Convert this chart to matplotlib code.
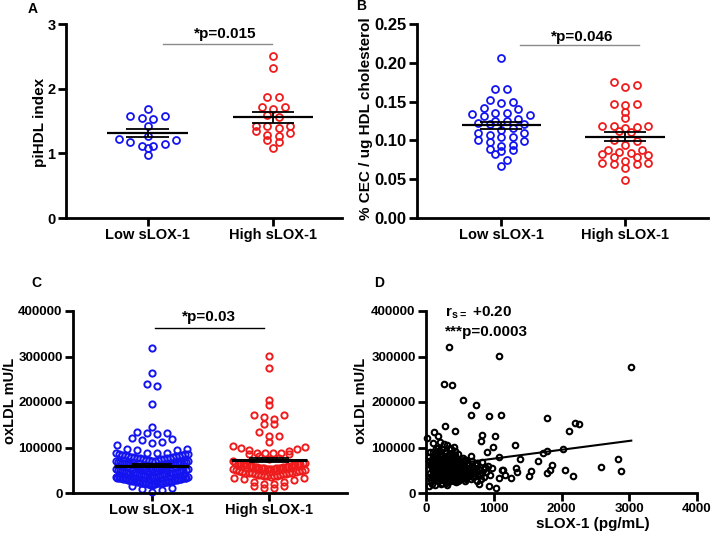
import numpy as np
import matplotlib
matplotlib.use('Agg')
import matplotlib.pyplot as plt

plt.rcParams['font.family'] = ['Liberation Sans', 'DejaVu Sans']
plt.rcParams['font.weight'] = 'bold'
plt.rcParams['mathtext.fontset'] = 'custom'
plt.rcParams['mathtext.rm'] = 'Liberation Sans:bold'
plt.rcParams['mathtext.bf'] = 'Liberation Sans:bold'

# ---- data ----
groups = ['Low sLOX-1', 'High sLOX-1']

# A: piHDL index
pihdl_low = [1.69, 1.58, 1.54, 1.53, 1.58, 1.43, 1.27, 1.22, 1.15, 1.12, 1.18, 1.21, 1.09, 1.12, 0.97]
pihdl_high = [2.51, 2.32, 1.87, 1.87, 1.71, 1.68, 1.71, 1.59, 1.56, 1.43, 1.43, 1.43, 1.39, 1.35,
              1.28, 1.27, 1.31, 1.21, 1.17, 1.09]

# B: % CEC / ug HDL cholesterol
cec_low = [0.206, 0.166, 0.166, 0.150, 0.148, 0.152, 0.142, 0.141, 0.135, 0.134, 0.133, 0.135, 0.132,
           0.125, 0.123, 0.121, 0.121, 0.125, 0.127, 0.116, 0.109, 0.107, 0.104, 0.101, 0.105, 0.109,
           0.114, 0.094, 0.089, 0.098, 0.099, 0.086, 0.088, 0.093, 0.075, 0.082, 0.067]
cec_high = [0.175, 0.169, 0.171, 0.147, 0.145, 0.147, 0.137, 0.119, 0.118, 0.116, 0.117, 0.119, 0.129,
            0.111, 0.112, 0.101, 0.099, 0.094, 0.087, 0.084, 0.081, 0.082, 0.085, 0.088, 0.079, 0.073,
            0.071, 0.069, 0.064, 0.069, 0.071, 0.078, 0.049]

# C: oxLDL (thousand mU/L)
oxldl_low_k = [319, 263, 239, 235, 195, 145, 134, 132, 131, 129, 120, 118, 117, 112, 110, 105, 97, 96,
               94, 94, 89, 89,
               88, 87, 86, 85, 85, 84, 83, 83, 82, 81, 81, 80, 79, 79, 78, 77, 77, 76, 75, 75, 74, 73,
               73, 72, 71, 71,
               70, 70, 69, 69, 68, 68, 67, 67, 66, 66, 65, 65, 64, 64, 63, 63, 62, 62, 61, 61, 60, 60,
               59, 59, 58, 58, 57, 57, 56, 56, 55, 55, 54, 54, 53, 53,
               52, 52, 51, 51, 50, 50, 49, 49, 48, 48, 47, 47, 46, 46, 45, 45, 44, 44, 43, 43, 42, 42,
               41, 41, 40, 40, 40, 39, 39, 38, 38, 37, 37, 36, 36,
               35, 35, 34, 34, 33, 33, 32, 32, 32, 31, 31, 31, 30, 30, 30, 29, 29, 29, 28, 28, 28, 27,
               27, 27, 26, 26, 26, 25, 25, 25, 24, 24, 24, 23, 23, 23, 22, 22, 22, 21, 21, 21, 20, 20,
               19, 19, 18, 18,
               15, 12, 9, 6, 3]
oxldl_high_k = [301, 275, 204, 193, 171, 171, 168, 162, 151, 151, 135, 125, 125, 113,
                103, 102, 100, 96, 95, 92, 89, 89, 89, 88, 85, 85,
                82, 78, 74, 70,
                66, 66, 65, 65, 64, 64, 63, 63, 62, 62, 61, 61, 60, 60, 59, 59, 58, 58, 57, 57, 56,
                56, 55, 55, 54, 54, 53, 53, 53, 53,
                52, 51, 50, 49, 48, 48, 47, 46, 45, 45, 44, 44, 43, 42, 42, 41, 40, 40, 39, 38, 38,
                37, 37, 36,
                34, 33, 30, 29, 25, 24, 20, 19, 15, 15, 12, 10]

# D: sLOX-1 (pg/mL) vs oxLDL (thousand mU/L)
slox = [335, 1084, 3030, 271, 384, 542, 739, 670, 1108, 936, 1783, 2192, 2256, 2118, 286, 433, 123,
        828, 1025, 813, 10, 172, 1320, 985, 901, 1394, 1084, 1650, 1724, 1783, 2020, 2828, 2576, 2882,
        2054, 2167, 1862, 1823, 1783, 1552, 1527, 1345, 1330, 1256, 1133, 1084, 1034, 936, 788, 39,
        1166, 1117,
        60, 80, 95, 110, 120, 130, 140, 150, 160, 170, 180, 190, 200, 210, 220, 230, 240, 250, 260,
        270, 280, 290, 300, 310, 320, 330, 340, 350, 360, 370, 380, 390, 400, 410, 420, 430, 440,
        450, 460, 470, 480, 490, 500, 520, 540, 560, 580, 600, 620, 640, 660, 680, 700, 720, 740,
        760, 780, 800, 820, 850, 870, 890, 910, 940, 970,
        70, 90, 105, 115, 125, 135, 145, 155, 165, 175, 185, 195, 205, 215, 225, 235, 245, 255, 265,
        275, 285, 295, 305, 315, 325, 335, 345, 355, 365, 375, 385, 395, 405, 415, 425, 435, 445,
        455, 465, 475, 485, 495, 510, 530, 550, 570, 590, 610, 630, 650, 670, 690, 710, 730, 750,
        770, 790, 810, 830, 860,
        100, 130, 160, 190, 220, 250, 280, 310, 340, 370, 400, 430, 460, 120, 150, 180, 210, 240,
        270, 300, 330, 360, 390, 420, 450, 200, 260, 320, 380, 440, 110, 170, 230, 290, 350, 410,
        470, 520, 560, 600, 640, 680, 720, 760, 45, 55, 65, 85, 100, 140, 180, 220, 150, 260, 310,
        200, 350, 240, 420, 380,
        75, 105, 135, 165, 195, 225, 255, 285, 315, 345, 375, 405, 435, 465, 495, 525, 555, 585,
        115, 145, 175, 205, 235, 265, 295, 325, 355, 385, 415, 445, 475, 505, 535, 565, 595, 625,
        655, 50, 90, 130, 170, 210, 250, 290, 330, 370, 410, 450, 490, 530]
oxldl_k = [321, 302, 277, 240, 237, 205, 194, 172, 172, 169, 164, 154, 152, 137, 148, 137, 134, 128,
           126, 115, 120, 125, 105, 101, 90, 75, 79, 70, 88, 93, 97, 75, 57, 48, 51, 37, 62, 51, 44,
           49, 37, 46, 55, 33, 51, 34, 12, 15, 20, 15, 40, 50,
           45, 62, 38, 71, 52, 85, 30, 58, 44, 76, 66, 35, 92, 50, 28, 81, 61, 42, 73, 55, 34, 88, 47,
           68, 25, 79, 57, 39, 64, 96, 49, 31, 74, 58, 44, 83, 36, 67, 52, 27, 71, 45, 60, 38, 78,
           50, 33, 65, 43, 56, 30, 70, 48, 37, 62, 26, 53, 42, 68, 35, 58, 46, 60, 40, 55,
           28, 55, 80, 40, 64, 48, 100, 33, 69, 53, 42, 74, 60, 37, 52, 96, 31, 66, 45, 58, 77, 40,
           105, 52, 36, 70, 46, 84, 29, 60, 43, 67, 34, 54, 92, 48, 24, 62, 40, 86, 55, 32, 66, 45,
           58, 27, 72, 40, 62, 48, 82, 35, 55, 44, 66, 38, 50, 30, 45, 52,
           50, 58, 62, 48, 70, 54, 64, 44, 61, 52, 56, 40, 64, 44, 72, 56, 42, 50, 80, 60, 46, 72,
           57, 66, 38, 34, 30, 68, 36, 56, 90, 26, 44, 22, 60, 26, 50, 70, 42, 54, 38, 58, 64, 48,
           70, 35, 90, 20, 110, 18, 100, 20, 85, 108, 18, 112, 98, 22, 102, 88,
           66, 47, 75, 39, 57, 84, 68, 50, 78, 33, 62, 45, 70, 56, 41, 60, 36, 52, 60, 88, 41, 67,
           74, 36, 53, 84, 27, 76, 47, 63, 34, 58, 49, 72, 30, 52, 44, 80, 72, 34, 92, 55, 38, 93,
           58, 42, 82, 61, 28, 38]

# regression line
fit_intercept = 56000
fit_slope = 19.5

BLUE = '#1414f0'
RED = '#ee1c1c'

W, H = 712, 537
fig = plt.figure(figsize=(W / 100, H / 100), dpi=100)


def px_box(left, top, right, bottom):
    return [left / W, 1 - bottom / H, (right - left) / W, (bottom - top) / H]


def swarm(vals, px_y, px_x, row_px, step_px, max_half_px):
    # prism-like scatter: rows one marker high, lowest value in the middle of each row,
    # crowded rows get squeezed into the max width
    rows = np.floor(vals * px_y / row_px).astype(int)
    off = np.zeros(len(vals))
    for r in np.unique(rows):
        idx = np.where(rows == r)[0]
        idx = idx[np.argsort(vals[idx], kind='stable')]
        k = len(idx)
        step = step_px if k < 2 else min(step_px, 2 * max_half_px / (k - 1))
        if k % 2:
            slots = [0] + [sg * m for m in range(1, k // 2 + 1) for sg in (1, -1)]
        else:
            slots = [sg * (m + 0.5) for m in range(k // 2) for sg in (1, -1)]
        off[idx] = np.array(slots) * step / px_x
    return off


def style(ax, ysize=9.5):
    for s in ['top', 'right']:
        ax.spines[s].set_visible(False)
    for s in ['left', 'bottom']:
        ax.spines[s].set_linewidth(2)
    ax.tick_params(direction='out', length=5.5, width=2, labelsize=9.5, pad=2)
    ax.tick_params(axis='y', labelsize=ysize)


def dot_panel(box, lows, highs, xlim, ylim, yticks, ms, mew, row_px, step_px, half_px, mean_lw,
              ysize):
    ax = fig.add_axes(px_box(*box))
    px_x = (box[2] - box[0]) / (xlim[1] - xlim[0])
    px_y = (box[3] - box[1]) / (ylim[1] - ylim[0])
    for pos, vals, col in [(1, lows, BLUE), (2, highs, RED)]:
        vals = np.asarray(vals, float)
        x = pos + swarm(vals, px_y, px_x, row_px, step_px, half_px)
        ax.plot(x, vals, 'o', ms=ms, mfc='none', mec=col, mew=mew, clip_on=False, zorder=2)
        m = vals.mean()
        se = vals.std(ddof=1) / np.sqrt(len(vals))
        ax.hlines(m, pos - 0.32, pos + 0.32, color='k', lw=mean_lw, zorder=3)
        ax.hlines([m - se, m + se], pos - 0.17, pos + 0.17, color='k', lw=1.3, zorder=3)
        ax.vlines(pos, m - se, m + se, color='k', lw=1.3, zorder=3)
    ax.set_xlim(xlim)
    ax.set_ylim(ylim)
    ax.set_yticks(yticks)
    ax.set_xticks([1, 2], groups)
    style(ax, ysize)
    ax.tick_params(axis='x', labelsize=10.5)
    return ax


def sig(ax, x0, x1, y, ytxt, xtxt, label, color):
    ax.plot([x0, x1], [y, y], color=color, lw=1.0)
    ax.text(xtxt, ytxt, label, ha='center', va='baseline', fontsize=11, fontweight='bold')


# A
ax_a = dot_panel((66, 24, 342, 218), pihdl_low, pihdl_high, (0.35, 2.55), (0, 3), [0, 1, 2, 3],
                 5, 1.3, 8, 11.5, 38, 1.6, 10.5)
sig(ax_a, 1.12, 1.99, 2.69, 2.78, 1.62, '*p=0.015', '#8a8a8a')

# B
ax_b = dot_panel((417, 24, 708, 218), cec_low, cec_high, (0.32, 2.67), (0, 0.25),
                 [0, 0.05, 0.10, 0.15, 0.20, 0.25], 5, 1.3, 8, 11.5, 38, 1.6, 12)
ax_b.set_yticklabels(['0.00', '0.05', '0.10', '0.15', '0.20', '0.25'])
sig(ax_b, 1.15, 2.11, 0.223, 0.2285, 1.65, '*p=0.046', '#8a8a8a')

# C
ax_c = dot_panel((73, 311, 347, 493), np.array(oxldl_low_k) * 1000, np.array(oxldl_high_k) * 1000,
                 (0.33, 2.665), (0, 400000), [0, 100000, 200000, 300000, 400000],
                 4.5, 1.4, 8, 10, 36, 2.2, 9.5)
sig(ax_c, 1.03, 1.96, 362600, 377400, 1.49, '*p=0.03', 'k')

# D
ax_d = fig.add_axes(px_box(426, 311, 697, 493))
ox_d = np.array(oxldl_k) * 1000
ax_d.plot(slox, ox_d, 'o', ms=4, mfc='none', mec='k', mew=1.5, clip_on=False, zorder=2)
xs = np.array([min(slox), max(slox)])
ax_d.plot(xs, fit_intercept + fit_slope * xs, color='k', lw=1.5, zorder=3)
ax_d.set_xlim(0, 4000)
ax_d.set_ylim(0, 400000)
ax_d.set_xticks([0, 1000, 2000, 3000, 4000])
ax_d.set_yticks([0, 100000, 200000, 300000, 400000])
style(ax_d)
ax_d.text(280, 395600, r'$\mathbf{r_{s=}}$ +0.20', fontsize=11, fontweight='bold', va='center')
ax_d.text(280, 354500, '***p=0.0003', fontsize=11, fontweight='bold', va='center')


# axis labels and panel letters (figure pixel positions)
def ftext(x, y, s, **kw):
    fig.text(x / W, 1 - y / H, s, ha='center', va='center', fontweight='bold', **kw)


ftext(40, 122, 'piHDL index', rotation=90, fontsize=11)
ftext(366, 119, '% CEC / ug HDL cholesterol', rotation=90, fontsize=11)
ftext(10, 401, 'oxLDL mU/L', rotation=90, fontsize=10.5)
ftext(361, 401, 'oxLDL mU/L', rotation=90, fontsize=10.5)
ftext(593, 524, 'sLOX-1 (pg/mL)', fontsize=11)

ftext(33, 9, 'A', fontsize=10)
ftext(361, 6, 'B', fontsize=10)
ftext(36, 283, 'C', fontsize=10)
ftext(379, 283, 'D', fontsize=10)

fig.savefig('out.png', dpi=100)
